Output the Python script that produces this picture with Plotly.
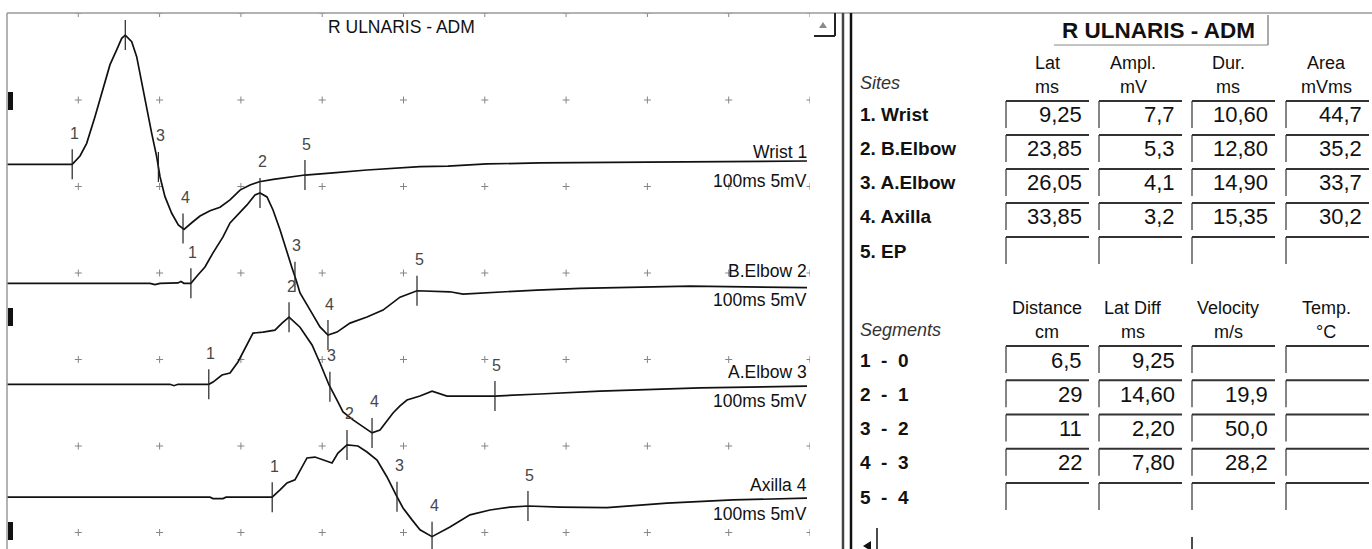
import numpy as np
import plotly.graph_objects as go

W, H = 1372, 549

# ---------------- waveform data (time in ms, amplitude in mV relative to baseline) ----------------
wrist_t = [1.23, 9.25, 10.21, 11.03, 12.05, 13.07, 13.9, 14.72, 15.34, 15.78, 16.57, 17.18, 17.8, 18.41,
           19.03, 19.64, 20.05, 20.66, 21.49, 22.3, 23.0, 23.95, 24.97, 26.2, 27.43, 28.66, 29.89, 31.12,
           32.26, 33.98, 37.88, 41.33, 45.51, 52.03, 55.47, 60.27, 66.79, 79.95, 91.39, 99.63]
wrist_mv = [0.0, 0.0, 0.48, 1.21, 2.75, 4.49, 5.76, 6.61, 7.28, 7.47, 7.09, 6.22, 4.68, 3.14,
            1.79, 0.44, -0.72, -1.87, -2.83, -3.51, -3.76, -3.38, -2.99, -2.68, -2.48, -2.06, -1.49, -1.2,
            -1.01, -0.87, -0.62, -0.49, -0.33, -0.14, -0.1, 0.02, 0.08, 0.13, 0.19, 0.19]

belbow_t = [1.23, 18.82, 19.43, 20.05, 22.26, 22.63, 23.0, 23.85, 24.6, 25.58, 26.57, 27.8, 28.66, 29.64,
            30.75, 31.73, 32.35, 33.21, 33.95, 34.81, 35.67, 36.29, 36.78, 37.27, 38.5, 39.73, 40.71,
            41.82, 43.42, 45.51, 47.48, 49.57, 51.66, 55.72, 57.32, 61.87, 66.42, 71.71, 85.24, 99.63]
belbow_mv = [0.0, 0.0, -0.07, 0.0, 0.02, 0.1, 0.0, 0.0, 0.42, 0.94, 1.76, 2.68, 3.49, 3.95,
             4.53, 5.1, 5.22, 4.99, 4.24, 3.09, 1.76, 0.89, 0.2, -0.56, -1.54, -2.52, -2.99,
             -2.82, -2.3, -1.95, -1.55, -0.8, -0.43, -0.49, -0.62, -0.49, -0.39, -0.29, -0.16, -0.25]

aelbow_t = [1.23, 21.28, 21.77, 22.26, 26.05, 26.57, 27.67, 28.66, 29.64, 30.75, 31.49, 32.72, 34.19,
            35.06, 35.92, 37.27, 38.75, 39.73, 40.84, 41.82, 42.56, 43.79, 45.02, 46.13, 47.11, 48.71,
            49.57, 50.43, 52.03, 53.51, 55.35, 58.18, 61.25, 66.79, 74.17, 86.47, 99.63]
aelbow_mv = [0.0, 0.0, -0.08, 0.0, 0.0, 0.13, 0.54, 0.65, 1.29, 2.27, 2.96, 3.02, 3.13,
             3.53, 3.88, 3.3, 2.27, 1.23, -0.04, -0.91, -1.6, -2.06, -2.46, -2.81, -2.64, -1.66,
             -1.25, -0.91, -0.68, -0.4, -0.68, -0.68, -0.68, -0.56, -0.39, -0.21, -0.1]

axilla_t = [1.23, 26.2, 26.57, 27.8, 28.17, 33.85, 34.81, 35.67, 36.65, 37.27, 38.13, 39.11, 40.1, 41.21,
            41.94, 43.05, 44.4, 45.51, 46.74, 47.97, 49.08, 49.94, 51.05, 52.03, 53.51, 55.72, 58.18,
            60.64, 63.1, 65.31, 69.25, 75.03, 82.41, 90.53, 99.63]
axilla_mv = [0.0, 0.0, -0.08, -0.08, 0.0, 0.0, 0.42, 0.82, 1.0, 1.57, 2.27, 2.32, 2.15, 1.98,
             2.55, 3.02, 2.96, 2.61, 2.15, 1.17, 0.13, -0.62, -1.31, -1.88, -2.28, -1.72, -1.02,
             -0.74, -0.57, -0.51, -0.57, -0.6, -0.34, -0.16, -0.05]

trace_names = ["Wrist 1", "B.Elbow 2", "A.Elbow 3", "Axilla 4"]
trace_scale = "100ms 5mV"
# marker latencies (ms) for markers 1..5 on each trace
wrist_marks = [9.25, 15.78, 19.85, 22.88, 37.88]
belbow_marks = [23.85, 32.35, 36.65, 40.71, 51.66]
aelbow_marks = [26.05, 35.92, 40.95, 46.13, 61.25]
axilla_marks = [33.85, 43.05, 49.20, 53.51, 65.31]
mark_labels = ["1", "2", "3", "4", "5"]

# ---------------- table data ----------------
panel_title = "R ULNARIS - ADM"
site_headers = [("Lat", "ms"), ("Ampl.", "mV"), ("Dur.", "ms"), ("Area", "mVms")]
sites = ["1. Wrist", "2. B.Elbow", "3. A.Elbow", "4. Axilla", "5. EP"]
site_lat = ["9,25", "23,85", "26,05", "33,85", ""]
site_ampl = ["7,7", "5,3", "4,1", "3,2", ""]
site_dur = ["10,60", "12,80", "14,90", "15,35", ""]
site_area = ["44,7", "35,2", "33,7", "30,2", ""]

seg_headers = [("Distance", "cm"), ("Lat Diff", "ms"), ("Velocity", "m/s"), ("Temp.", "°C")]
segments = [("1", "0"), ("2", "1"), ("3", "2"), ("4", "3"), ("5", "4")]
seg_dist = ["6,5", "29", "11", "22", ""]
seg_latdiff = ["9,25", "14,60", "2,20", "7,80", ""]
seg_vel = ["", "19,9", "50,0", "28,2", ""]
seg_temp = ["", "", "", "", ""]

# ---------------- layout constants (pixels) ----------------
PX_PER_MS = 8.13
PX_PER_MV = 17.3
X0_PX, X1_PX = 7, 810
Y_TOP_PX = 13.5
baseline_px = [164.3, 283.3, 384.3, 497.2]
offsets = [-(b - Y_TOP_PX) / PX_PER_MV for b in baseline_px]
t_left = (X0_PX + 3) / PX_PER_MS
t_right = (X1_PX + 3) / PX_PER_MS
y_bottom = -(H - Y_TOP_PX) / PX_PER_MV

FONT = "Liberation Sans, Arial, Helvetica, sans-serif"

fig = go.Figure()

# grid dots
gx, gy = [], []
for r in range(0, 7):
    for c in range(1, 11):
        gx.append(10 * c)
        gy.append(-5 * r)
fig.add_trace(go.Scatter(x=gx, y=gy, mode="markers", hoverinfo="skip",
                         marker=dict(symbol="cross-thin", size=5, line=dict(color="#858585", width=1))))

waves = [(wrist_t, wrist_mv, wrist_marks), (belbow_t, belbow_mv, belbow_marks),
         (aelbow_t, aelbow_mv, aelbow_marks), (axilla_t, axilla_mv, axilla_marks)]

half = 15 / PX_PER_MV
for i, (tt, mv, marks) in enumerate(waves):
    yy = [v + offsets[i] for v in mv]
    fig.add_trace(go.Scatter(x=tt, y=yy, mode="lines", hoverinfo="skip",
                             line=dict(color="#111111", width=1.7)))
    mx, my = [], []
    for k, m in enumerate(marks):
        yv = float(np.interp(m, tt, yy))
        mx += [m, m, None]
        my += [yv - half, yv + half, None]
        label_y = yv + 31 / PX_PER_MV
        if label_y < -0.5:
            fig.add_annotation(x=m, y=label_y, text=mark_labels[k], showarrow=False,
                               xanchor="center", yanchor="middle", xshift=2,
                               font=dict(family=FONT, size=16, color="#474747"))
    fig.add_trace(go.Scatter(x=mx, y=my, mode="lines", hoverinfo="skip",
                             line=dict(color="#222222", width=1.2)))
    # trace labels
    fig.add_annotation(x=tt[-1], y=offsets[i] + 12 / PX_PER_MV, text=trace_names[i], showarrow=False,
                       xanchor="right", yanchor="middle", xshift=2,
                       font=dict(family=FONT, size=17.5, color="#111"))
    fig.add_annotation(x=tt[-1], y=offsets[i] - 17 / PX_PER_MV, text=trace_scale, showarrow=False,
                       xanchor="right", yanchor="middle", xshift=2,
                       font=dict(family=FONT, size=17.5, color="#111"))


def px(x):
    return x / W


def py(y):
    return 1 - y / H


def line(x0, y0, x1, y1, color="#333", width=1.0):
    fig.add_shape(type="line", xref="paper", yref="paper", x0=px(x0), y0=py(y0), x1=px(x1), y1=py(y1),
                  line=dict(color=color, width=width), layer="above")


def rect(x0, y0, x1, y1, color):
    fig.add_shape(type="rect", xref="paper", yref="paper", x0=px(x0), y0=py(y0), x1=px(x1), y1=py(y1),
                  line=dict(width=0), fillcolor=color, layer="above")


def text(x, y, s, size, anchor="center", color="#111", weight="normal", style="normal"):
    fig.add_annotation(xref="paper", yref="paper", x=px(x), y=py(y), text=s, showarrow=False,
                       xanchor=anchor, yanchor="middle",
                       font=dict(family=FONT, size=size, color=color, weight=weight, style=style))


# frame of the waveform panel
line(7, 13, W, 13, "#9a9a9a", 1.5)
line(7, 13, 7, H, "#9a9a9a", 1.5)
text(401, 27, panel_title, 17.5)
# left gain markers
for yb in [101, 317, 531]:
    rect(8, yb - 9, 13, yb + 9, "#111")
# scroll button
fig.add_shape(type="path", xref="paper", yref="paper",
              path=f"M {px(819)} {py(28)} L {px(827)} {py(28)} L {px(823)} {py(22)} Z",
              fillcolor="#8a8a8a", line=dict(width=0), layer="above")
line(835, 13, 835, 36, "#222", 2)
line(814, 36, 835, 36, "#222", 2)
# double separator
line(843, 13, 843, H, "#444", 2.5)
line(851, 13, 851, H, "#111", 2.5)

# ---------------- right table ----------------
text(1158, 31, panel_title, 22.5, weight="bold")
line(1268, 15, 1268, 45, "#555", 1)
line(1054, 45, 1268, 45, "#888", 1)

col_left = [1006, 1099, 1192, 1286]
head_center = [1047, 1133, 1228, 1326]
BOX_W, BOX_H = 83, 27


def table_block(headers, y_h1, y_h2, side_label, y_side, row_labels, cols, row_top0, row_step):
    for c, (h1, h2) in enumerate(headers):
        text(head_center[c], y_h1, h1, 18)
        text(head_center[c], y_h2, h2, 18)
    text(858, y_side, side_label, 18, anchor="left", color="#333", style="italic")
    for r, lab in enumerate(row_labels):
        top = row_top0 + r * row_step
        text(858, top + 14, lab, 19, anchor="left", weight="bold")
        for c, values in enumerate(cols):
            x0 = col_left[c]
            line(x0, top, x0 + BOX_W, top, "#333", 2)
            line(x0, top, x0, top + BOX_H, "#333", 1.2)
            if values[r]:
                text(x0 + 78, top + 14, values[r], 22, anchor="right")


table_block(site_headers, 63, 87, "Sites", 83, sites,
            [site_lat, site_ampl, site_dur, site_area], 101, 34)
seg_labels = [f"{a}\u00a0\u00a0-\u00a0\u00a0{b}" for a, b in segments]
table_block(seg_headers, 308, 332, "Segments", 330, seg_labels,
            [seg_dist, seg_latdiff, seg_vel, seg_temp], 346, 34.25)

# bottom scrollbar remnants
fig.add_shape(type="path", xref="paper", yref="paper",
              path=f"M {px(863)} {py(546)} L {px(871)} {py(541)} L {px(871)} {py(551)} Z",
              fillcolor="#111", line=dict(width=0), layer="above")
line(877, 528, 877, H, "#111", 1.5)
line(1192, 537, 1192, H, "#111", 1.5)

fig.update_layout(
    width=W, height=H, margin=dict(l=0, r=0, t=0, b=0),
    paper_bgcolor="white", plot_bgcolor="white", showlegend=False,
    xaxis=dict(domain=[X0_PX / W, X1_PX / W], range=[t_left, t_right], visible=False,
               showgrid=False, zeroline=False, fixedrange=True),
    yaxis=dict(domain=[0, 1 - Y_TOP_PX / H], range=[y_bottom, 0], visible=False,
               showgrid=False, zeroline=False, fixedrange=True),
)

fig.write_html("out.html", config={"displayModeBar": False},
               post_script="document.body.style.margin='0px';document.body.style.overflow='hidden';")
